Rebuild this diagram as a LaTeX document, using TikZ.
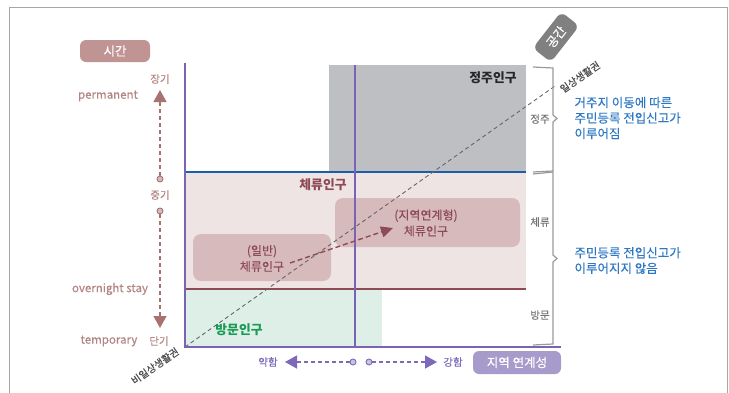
\documentclass[tikz,border=0pt]{standalone}
\usepackage{fontspec}
\setmainfont{Noto Sans CJK KR}[UprightFeatures={FakeBold=0.25}]
\usetikzlibrary{arrows.meta}
\definecolor{rose}{HTML}{C19494}
\definecolor{axispurple}{HTML}{7A62B5}
\definecolor{grayfill}{HTML}{BEBFC3}
\definecolor{blueline}{HTML}{1B5EAB}
\definecolor{pinkbg}{HTML}{EEE4E3}
\definecolor{darkred}{HTML}{8E4A55}
\definecolor{greenbg}{HTML}{DDEFE7}
\definecolor{boxfill}{HTML}{D6BABC}
\definecolor{greentext}{HTML}{1A9A55}
\definecolor{rosetext}{HTML}{B38484}
\definecolor{timecol}{HTML}{A87272}
\definecolor{bracegray}{HTML}{9A9A9A}
\definecolor{bluetext}{HTML}{2E78C2}
\definecolor{lightpurple}{HTML}{A79BCB}
\definecolor{arrowpurple}{HTML}{7D69B8}
\tikzset{
  tag/.style={rounded corners=6pt, text=white, font=\fontsize{12.5}{14}\selectfont, inner sep=0pt, align=center},
  pop/.style={fill=boxfill, rounded corners=8pt, inner sep=0pt},
  poptext/.style={text=darkred, font=\fontsize{12}{16}\selectfont, align=center},
  timelabel/.style={text=rosetext, font=\fontsize{11.5}{13}\selectfont},
  smalllabel/.style={font=\fontsize{10.5}{12}\selectfont},
  bluenote/.style={text=bluetext, font=\fontsize{12.5}{15.5}\selectfont, align=left, anchor=west},
  bracestyle/.style={draw=bracegray, line width=1.2pt, line join=miter},
  tri/.style={-{Triangle[length=12pt,width=13pt]}},
  head/.style={font=\bfseries\fontsize{12.8}{14}\selectfont},
}
\begin{document}
\begin{tikzpicture}[x=1pt,y=-1pt]
\useasboundingbox (0,0) rectangle (729,392);
% frame
\draw[color=gray!70, line width=1pt] (9,400) -- (9,7) -- (727,7) -- (727,400);
% regions
\fill[grayfill] (329,65) rectangle (526,172);
\fill[pinkbg] (185,172) rectangle (526,289);
\fill[greenbg] (185,289) rectangle (382,347);
% population boxes
\node[pop, minimum width=138pt, minimum height=47pt] (gen) at (262,257.5) {};
\node[pop, minimum width=185pt, minimum height=49pt] (reg) at (427.5,222.5) {};
\node[poptext] (gentext) at (262,258.5) {(일반)\\체류인구};
\node[poptext] (regtext) at (426,223) {(지역연계형)\\체류인구};
% boundary lines
\draw[blueline, line width=2.5pt] (185,172) -- (526,172);
\draw[darkred, line width=2.5pt] (185,289) -- (526,289);
\draw[axispurple, line width=1.1pt] (355,65) -- (355,347);
% diagonal
\coordinate (dstart) at (185,347);
\coordinate (dend) at (555,86);
\draw[color=black!60, line width=0.9pt, dash pattern=on 4pt off 3pt] (dstart) -- (dend);
% arrow from general to regional
\coordinate (astart) at (290,263);
\coordinate (aend) at (393,228);
\draw[darkred, line width=1.4pt, dash pattern=on 5pt off 3pt, -{Triangle[length=12pt,width=11pt]}] (astart) -- (aend);
% axes
\draw[axispurple, line width=2.5pt] (185,63) -- (185,347) -- (561,347);
% region labels
\node[head, text=black!85] (jeongju) at (493,78) {정주인구};
\node[head, text=darkred] (cheryu) at (323,185) {체류인구};
\node[head, text=greentext] (bangmun) at (239,330) {방문인구};
% diagonal labels
\node[smalllabel, text=black!70, rotate=35, font=\fontsize{10}{12}\selectfont] (ilsang) at (580,77) {일상생활권};
\node[smalllabel, text=black!70, rotate=35, font=\fontsize{10}{12}\selectfont] (biilsang) at (155,366) {비일상생활권};
% time tag
\node[tag, fill=rose, minimum width=70pt, minimum height=22pt] (time) at (115,51) {시간};
% time axis
\coordinate (ttop) at (160,90);
\coordinate (tbot) at (160,328);
\node[draw=timecol, fill=boxfill, circle, line width=0.9pt, inner sep=0pt, minimum size=6pt] (c1) at (160,179) {};
\node[draw=timecol, fill=boxfill, circle, line width=0.9pt, inner sep=0pt, minimum size=6pt] (c2) at (160,211) {};
\draw[timecol, line width=1.3pt, dash pattern=on 4pt off 3pt, tri] (c1) -- (ttop);
\draw[timecol, line width=1.3pt, dash pattern=on 4pt off 3pt, tri] (c2) -- (tbot);
\node[smalllabel, text=rosetext] (long) at (160,79) {장기};
\node[smalllabel, text=rosetext] (mid) at (160,195) {중기};
\node[smalllabel, text=rosetext] (short) at (159,341) {단기};
\node[timelabel] (perm) at (108,96) {permanent};
\node[timelabel] (over) at (110,289) {overnight stay};
\node[timelabel] (temp) at (109,341) {temporary};
% space tag
\node[tag, fill=black!50, minimum width=46pt, minimum height=23pt, rotate=52] (space) at (556,37) {공간};
% braces
\draw[bracestyle] (533,67) -- (553,68) -- (553,115) -- (557,118.5) -- (553,122) -- (553,171) -- (533,172);
\draw[bracestyle] (533,174) -- (553,172) -- (553,255) -- (557,258.5) -- (553,262) -- (553,344) -- (533,345);
\node[smalllabel, text=black!55] (sj) at (540,119) {정주};
\node[smalllabel, text=black!55] (sc) at (540,222) {체류};
\node[smalllabel, text=black!55] (sb) at (540,315) {방문};
% notes
\node[bluenote] (note1) at (571,118) {거주지 이동에 따른\\주민등록 전입신고가\\이루어짐};
\node[bluenote] (note2) at (571,260.5) {주민등록 전입신고가\\이루어지지 않음};
% bottom linkage axis
\node[text=arrowpurple, font=\fontsize{10.5}{12}\selectfont] (weak) at (268,362) {약함};
\node[text=arrowpurple, font=\fontsize{10.5}{12}\selectfont] (strong) at (453,362) {강함};
\node[draw=arrowpurple, fill=lightpurple!60, circle, line width=0.9pt, inner sep=0pt, minimum size=6pt] (b1) at (353,362) {};
\node[draw=arrowpurple, fill=lightpurple!60, circle, line width=0.9pt, inner sep=0pt, minimum size=6pt] (b2) at (369,362) {};
\coordinate (bl) at (285,362);
\coordinate (br) at (437,362);
\draw[arrowpurple, line width=1.3pt, dash pattern=on 4pt off 3pt, tri] (b1) -- (bl);
\draw[arrowpurple, line width=1.3pt, dash pattern=on 4pt off 3pt, tri] (b2) -- (br);
\node[tag, fill=lightpurple, minimum width=88pt, minimum height=23pt] (link) at (517,362.5) {지역 연계성};
\end{tikzpicture}
\end{document}
